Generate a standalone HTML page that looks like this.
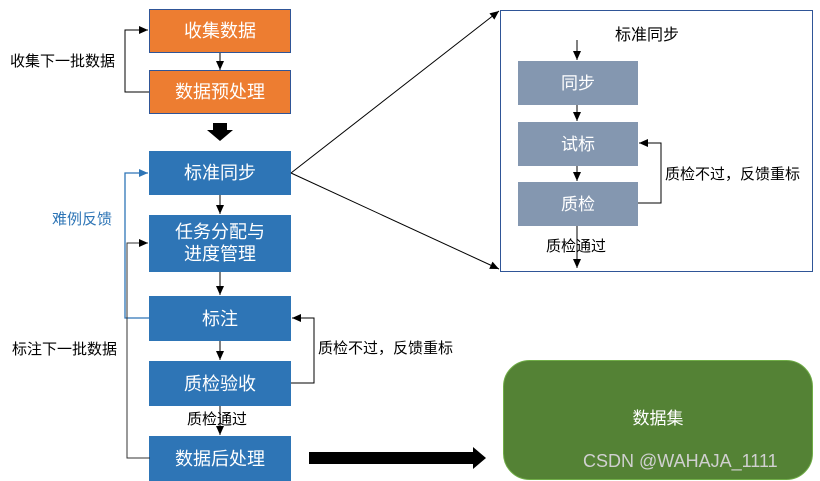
<!DOCTYPE html>
<html><head><meta charset="utf-8"><style>
html,body{margin:0;padding:0;background:#fff;}
svg{display:block;font-family:"Liberation Sans","Noto Sans CJK SC",sans-serif;}
</style></head><body>
<svg width="820" height="481" viewBox="0 0 820 481" xmlns="http://www.w3.org/2000/svg">
<defs>
<marker id="a" markerWidth="10" markerHeight="10" refX="9" refY="5" orient="auto" markerUnits="userSpaceOnUse"><path d="M0,1 L9,5 L0,9 Z" fill="#000"/></marker>
<marker id="ab" markerWidth="10" markerHeight="10" refX="9" refY="5" orient="auto" markerUnits="userSpaceOnUse"><path d="M0,1 L9,5 L0,9 Z" fill="#2e75b6"/></marker>
</defs>
<!-- orange boxes -->
<rect x="149.5" y="9.5" width="141" height="43" fill="#ed7d31" stroke="#2f5597"/>
<text x="220" y="37" font-size="18" fill="#fff" text-anchor="middle">收集数据</text>
<rect x="149.5" y="70.5" width="141" height="43" fill="#ed7d31" stroke="#2f5597"/>
<text x="220" y="98" font-size="18" fill="#fff" text-anchor="middle">数据预处理</text>
<line x1="220" y1="53" x2="220" y2="70" stroke="#000" marker-end="url(#a)"/>
<!-- left loop top -->
<polyline points="149,92 125,92 125,30 148,30" fill="none" stroke="#000" marker-end="url(#a)"/>
<text x="10" y="66" font-size="15" fill="#000">收集下一批数据</text>
<!-- down block arrow -->
<path d="M213,123 L227,123 L227,130 L233,130 L220,141 L207,130 L213,130 Z" fill="#000"/>
<!-- blue boxes -->
<rect x="149" y="151" width="142" height="44" fill="#2e75b6"/>
<text x="220" y="179" font-size="18" fill="#fff" text-anchor="middle">标准同步</text>
<rect x="149" y="215" width="142" height="57" fill="#2e75b6"/>
<text x="220" y="238" font-size="18" fill="#fff" text-anchor="middle">任务分配与</text>
<text x="220" y="260" font-size="18" fill="#fff" text-anchor="middle">进度管理</text>
<rect x="149" y="296" width="142" height="45" fill="#2e75b6"/>
<text x="220" y="325" font-size="18" fill="#fff" text-anchor="middle">标注</text>
<rect x="149" y="361" width="142" height="45" fill="#2e75b6"/>
<text x="220" y="390" font-size="18" fill="#fff" text-anchor="middle">质检验收</text>
<rect x="149" y="436" width="142" height="45" fill="#2e75b6"/>
<text x="220" y="465" font-size="18" fill="#fff" text-anchor="middle">数据后处理</text>
<line x1="220" y1="195" x2="220" y2="214" stroke="#000" marker-end="url(#a)"/>
<line x1="220" y1="272" x2="220" y2="295" stroke="#000" marker-end="url(#a)"/>
<line x1="220" y1="341" x2="220" y2="360" stroke="#000" marker-end="url(#a)"/>
<line x1="220" y1="406" x2="220" y2="435" stroke="#000" marker-end="url(#a)"/>
<text x="187" y="424" font-size="15" fill="#000">质检通过</text>
<!-- blue feedback -->
<polyline points="149,318 125,318 125,173 148,173" fill="none" stroke="#2e75b6" stroke-width="1.3" marker-end="url(#ab)"/>
<text x="52" y="224" font-size="15" fill="#2e75b6">难例反馈</text>
<!-- black loop bottom -->
<polyline points="150,458 127,458 127,243 148,243" fill="none" stroke="#333" marker-end="url(#a)"/>
<text x="12" y="354" font-size="15" fill="#000">标注下一批数据</text>
<!-- right feedback -->
<polyline points="291,383 314,383 314,318 292,318" fill="none" stroke="#000" marker-end="url(#a)"/>
<text x="318" y="353" font-size="15" fill="#000">质检不过，反馈重标</text>
<!-- zoom lines -->
<line x1="291" y1="173" x2="499" y2="11" stroke="#000" marker-end="url(#a)"/>
<line x1="291" y1="173" x2="499" y2="269" stroke="#000" marker-end="url(#a)"/>
<!-- detail panel -->
<rect x="500.5" y="10.5" width="312" height="261" fill="#fff" stroke="#2f5597"/>
<text x="615" y="40" font-size="16" fill="#000">标准同步</text>
<line x1="577" y1="40" x2="577" y2="60" stroke="#000" marker-end="url(#a)"/>
<rect x="518" y="61" width="120" height="44" fill="#8497b0"/>
<text x="578" y="89" font-size="17" fill="#fff" text-anchor="middle">同步</text>
<line x1="577" y1="105" x2="577" y2="121" stroke="#000" marker-end="url(#a)"/>
<rect x="518" y="122" width="120" height="44" fill="#8497b0"/>
<text x="578" y="150" font-size="17" fill="#fff" text-anchor="middle">试标</text>
<line x1="577" y1="166" x2="577" y2="181" stroke="#000" marker-end="url(#a)"/>
<rect x="518" y="182" width="120" height="44" fill="#8497b0"/>
<text x="578" y="210" font-size="17" fill="#fff" text-anchor="middle">质检</text>
<polyline points="638,203 661,203 661,143 639,143" fill="none" stroke="#000" marker-end="url(#a)"/>
<text x="665" y="179" font-size="15" fill="#000">质检不过，反馈重标</text>
<line x1="577" y1="226" x2="577" y2="268" stroke="#000" marker-end="url(#a)"/>
<text x="546" y="251" font-size="15" fill="#000">质检通过</text>
<!-- big arrow -->
<path d="M309,452 L473,452 L473,447 L486,458 L473,469 L473,464 L309,464 Z" fill="#000"/>
<!-- dataset -->
<rect x="503.5" y="360.5" width="309" height="119" rx="26" ry="26" fill="#548235" stroke="#70ad47"/>
<text x="658" y="424" font-size="17" fill="#fff" text-anchor="middle">数据集</text>
<text x="583" y="467" font-size="18" fill="#d0d0d0">CSDN @WAHAJA_1111</text>
</svg>
</body></html>
